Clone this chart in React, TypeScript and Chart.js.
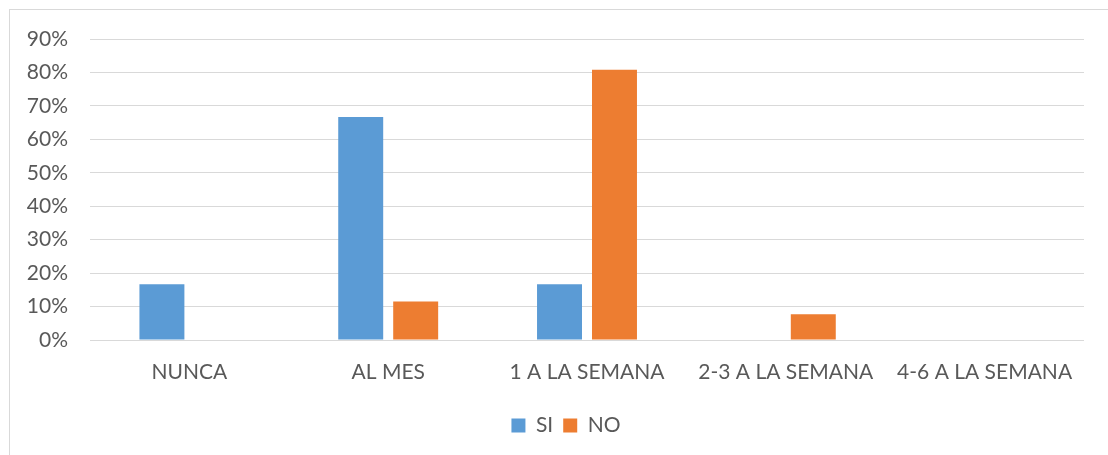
import React, { useEffect, useRef } from "react";
import { Chart, registerables } from "chart.js";

Chart.register(...registerables);

const categories = ["NUNCA", "AL MES", "1 A LA SEMANA", "2-3 A LA SEMANA", "4-6 A LA SEMANA"];
const siValues = [0.1667, 0.6667, 0.1667, 0, 0];
const noValues = [0, 0.115, 0.808, 0.077, 0];
const seriesNames = ["SI", "NO"];

const FONT = "Lato, 'Open Sans', sans-serif";
const TEXT = "#595959";
const GRID = "#d9d9d9";

const frame = {
  id: "frame",
  beforeDraw(chart: any) {
    const ctx = chart.ctx;
    ctx.save();
    ctx.fillStyle = "#ffffff";
    ctx.fillRect(0, 0, chart.width, chart.height);
    ctx.strokeStyle = GRID;
    ctx.lineWidth = 1;
    ctx.strokeRect(9.5, 9.5, chart.width + 20, chart.height + 20);
    ctx.restore();
  },
  afterLayout(chart: any) {
    const lg = chart.legend;
    if (lg) {
      lg.left += 24;
      lg.right += 24;
    }
  },
};

export default function App() {
  const ref = useRef<HTMLCanvasElement | null>(null);
  useEffect(() => {
    document.body.style.margin = "0";
    const chart = new Chart(ref.current as HTMLCanvasElement, {
      type: "bar",
      data: {
        labels: categories,
        datasets: [
          { label: seriesNames[0], data: siValues, backgroundColor: "#5b9bd5", barPercentage: 0.818, categoryPercentage: 0.553 },
          { label: seriesNames[1], data: noValues, backgroundColor: "#ed7d31", barPercentage: 0.818, categoryPercentage: 0.553 },
        ],
      },
      options: {
        animation: false,
        responsive: false,
        layout: { padding: { top: 39, right: 24, bottom: 9, left: 0 } },
        plugins: {
          tooltip: { enabled: false },
          legend: {
            position: "bottom",
            labels: {
              boxWidth: 14,
              boxHeight: 14,
              padding: 10,
              color: TEXT,
              font: { family: FONT, size: 21 },
            },
          },
        },
        scales: {
          x: {
            grid: { display: false, drawTicks: false },
            border: { display: false },
            ticks: { color: TEXT, padding: 20, font: { family: FONT, size: 21 }, maxRotation: 0, autoSkip: false },
            afterFit: (s: any) => { s.height = 65; },
          },
          y: {
            min: 0,
            max: 0.9,
            ticks: {
              stepSize: 0.1,
              color: TEXT,
              padding: 22,
              font: { family: FONT, size: 21 },
              callback: (v: any) => Math.round(Number(v) * 100) + "%",
            },
            grid: { color: GRID, lineWidth: 1, drawTicks: false },
            border: { display: false },
            afterFit: (s: any) => { s.width = 90; },
          },
        },
      },
      plugins: [frame],
    });
    return () => chart.destroy();
  }, []);
  return <canvas ref={ref} width={1108} height={455} style={{ display: "block" }} />;
}
